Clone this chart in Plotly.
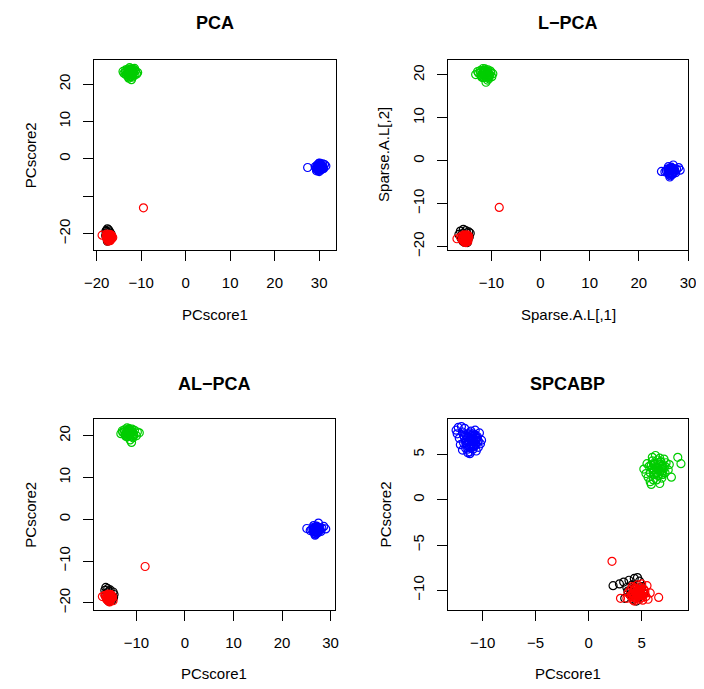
import plotly.graph_objects as go

W, H = 704, 689

# ---------------- data ----------------
# Panel 1: PCA
pca_black_x = [-17.6,-17.9,-17.3,-17.7,-17.0,-17.5,-18.0,-17.2,-16.8,-17.4,-17.8,-17.1,-17.6,-17.3,-17.9]
pca_black_y = [-18.7,-19.2,-19.0,-19.8,-20.3,-20.9,-20.5,-21.4,-20.0,-21.8,-21.1,-19.5,-22.0,-20.6,-19.4]
pca_red_x = [-17.3,-17.6,-16.9,-17.8,-17.1,-16.6,-17.4,-17.9,-16.8,-17.2,-17.5,-16.4,-17.0,-17.7,-18.8,-17.3,-16.7,-17.5,-17.0,-17.8,
             -17.3,-17.0,-17.6,-17.2,-16.9,-17.5,-17.1,-17.4,-16.6,-17.8,-17.3,-16.8,-9.5]
pca_red_y = [-20.8,-20.4,-21.2,-21.0,-20.2,-20.7,-21.6,-20.6,-21.5,-20.9,-22.0,-21.0,-21.9,-21.4,-20.4,-20.3,-20.5,-21.2,-21.7,-20.1,
             -21.0,-20.6,-21.3,-21.4,-20.9,-20.8,-21.8,-20.5,-21.3,-20.7,-21.7,-20.3,-13.1]
pca_green_x = [-12.5,-13.2,-11.8,-12.9,-12.1,-13.6,-11.3,-12.6,-13.9,-11.0,-12.3,-13.0,-11.6,-12.8,-14.1,-10.8,-12.2,-13.4,-11.9,-12.7,-12.0,-13.1,-11.5,-12.4,-12.9,
               -12.5,-12.0,-13.0,-12.3,-12.8,-11.7,-13.3,-12.6,-12.1,-13.5,-11.4,-12.9,-12.2,-12.4,-11.9]
pca_green_y = [23.0,23.6,22.8,22.3,24.1,23.2,23.5,24.4,22.9,22.7,22.0,24.0,23.9,21.6,23.4,23.1,21.2,22.5,22.3,23.3,23.7,22.9,24.2,22.6,21.9,
               23.2,22.6,23.1,23.8,22.7,23.3,22.5,22.1,23.4,23.8,22.5,23.5,22.9,24.0,21.9]
pca_blue_x = [29.8,30.4,29.3,30.9,29.9,30.2,29.5,31.2,31.5,30.6,29.1,30.0,29.7,30.8,27.4,29.6,30.3,30.1,29.4,31.0,
              30.0,30.5,29.6,30.2,29.9,30.7,29.4,30.3,29.8,30.9,30.1,29.5,30.6,29.9,30.4]
pca_blue_y = [-2.0,-1.6,-2.5,-2.2,-1.2,-3.0,-1.7,-1.5,-1.9,-2.8,-2.1,-3.4,-2.3,-1.3,-2.3,-2.9,-2.4,-1.1,-3.2,-2.6,
              -2.2,-2.4,-2.0,-1.8,-2.7,-2.0,-2.8,-2.9,-1.5,-2.5,-2.4,-2.2,-1.9,-3.1,-1.4]

# Panel 2: L-PCA
lpca_black_x = [-15.7,-16.3,-15.2,-14.6,-14.3,-15.9,-16.6,-15.0,-14.8,-15.5,-16.1,-14.5,-15.3,-15.8,-14.9]
lpca_black_y = [-16.0,-16.4,-16.3,-16.6,-16.9,-17.0,-17.2,-16.8,-18.6,-19.0,-18.2,-17.8,-17.5,-18.8,-19.1]
lpca_red_x = [-15.0,-15.4,-14.7,-15.7,-14.9,-15.2,-16.0,-14.6,-15.5,-15.1,-14.8,-15.9,-15.3,-17.0,-15.6,-14.9,-15.2,-16.3,-15.4,-14.7,
              -15.2,-14.9,-15.6,-15.0,-15.4,-14.7,-15.8,-15.1,-15.3,-14.8,-15.5,-15.0,-8.4]
lpca_red_y = [-17.8,-17.4,-18.1,-18.0,-17.3,-18.7,-17.6,-17.7,-19.0,-18.4,-18.9,-18.5,-17.9,-18.2,-17.3,-18.3,-19.1,-17.8,-18.6,-17.5,
              -18.0,-17.6,-18.3,-18.6,-17.7,-18.1,-18.0,-18.9,-17.5,-18.5,-18.7,-18.2,-10.9]
lpca_green_x = [-11.0,-11.6,-10.4,-12.1,-10.2,-11.3,-12.6,-9.9,-11.8,-10.7,-13.2,-9.7,-11.1,-12.3,-10.5,-10.9,-11.5,-12.8,-10.1,-11.7,-10.8,-12.0,-11.2,-10.6,-11.4,
                -11.0,-11.4,-10.6,-11.8,-10.9,-11.2,-10.4,-12.2,-11.5,-10.8,-11.1,-12.0,-10.6,-11.7,-11.3]
lpca_green_y = [20.2,20.7,19.8,20.0,20.9,21.4,20.4,19.6,19.4,21.2,20.1,20.3,18.3,21.0,19.1,20.6,19.9,20.8,20.5,21.5,18.8,19.5,20.2,19.7,21.1,
                20.3,20.0,20.5,20.3,19.6,21.0,20.1,20.6,19.4,20.8,19.9,19.8,19.4,21.0,20.6]
lpca_blue_x = [26.5,26.9,26.1,27.3,26.0,26.7,25.6,27.7,28.4,24.6,26.3,27.0,26.8,25.9,27.5,26.4,26.6,28.1,25.3,26.2,
               26.5,26.9,26.1,26.7,26.3,27.1,25.9,26.6,27.3,26.0,26.8,26.4,27.0,26.2,26.6]
lpca_blue_y = [-2.3,-1.8,-2.7,-2.1,-1.4,-3.2,-2.4,-2.0,-2.2,-2.5,-3.8,-1.0,-2.9,-1.9,-2.8,-3.5,-1.5,-1.6,-2.6,-3.0,
               -2.4,-2.2,-2.0,-2.9,-1.8,-2.6,-2.4,-1.6,-2.5,-2.9,-3.2,-2.8,-1.9,-3.3,-2.0]

# Panel 3: AL-PCA
alpca_black_x = [-16.3,-15.9,-16.5,-15.4,-14.8,-14.6,-15.6,-16.1,-15.0,-15.7,-14.9,-16.4,-15.2,-15.8,-14.7]
alpca_black_y = [-16.3,-16.6,-17.0,-16.9,-17.4,-18.0,-17.2,-17.6,-19.3,-19.6,-18.6,-18.2,-19.0,-18.9,-18.7]
alpca_red_x = [-15.5,-15.9,-15.1,-16.2,-15.3,-15.7,-16.4,-14.9,-15.6,-15.2,-14.8,-16.1,-15.4,-17.0,-15.8,-15.0,-15.5,-16.5,-15.9,-15.3,
               -15.6,-15.3,-16.0,-15.4,-15.8,-15.1,-16.2,-15.5,-15.7,-15.2,-15.9,-15.4,-8.2]
alpca_red_y = [-18.5,-18.1,-18.9,-18.7,-18.0,-19.3,-18.3,-18.4,-19.7,-19.1,-19.5,-19.2,-18.6,-18.5,-17.9,-18.8,-19.8,-18.2,-19.4,-18.0,
               -18.7,-18.3,-19.0,-19.3,-18.4,-18.8,-18.7,-19.6,-18.2,-19.2,-19.4,-18.9,-11.3]
alpca_green_x = [-11.2,-11.8,-10.6,-12.3,-10.4,-11.5,-12.8,-10.0,-12.0,-10.9,-13.2,-9.4,-11.0,-12.5,-10.7,-11.1,-11.7,-12.9,-9.8,-11.9,-11.3,-12.2,-11.4,-10.5,-11.6,
                 -11.2,-11.6,-10.8,-12.0,-11.1,-11.4,-10.6,-12.4,-11.7,-11.0,-11.3,-12.2,-10.8,-11.9,-11.5]
alpca_green_y = [20.6,21.1,20.2,20.4,21.3,21.7,20.8,20.0,19.8,21.6,20.5,20.7,18.4,21.4,19.5,21.0,20.3,21.2,20.9,21.9,19.0,19.9,20.6,20.1,21.5,
                 20.7,20.4,20.9,20.7,20.0,21.4,20.5,21.0,19.8,21.2,20.3,20.2,19.8,21.4,21.0]
alpca_blue_x = [27.0,27.4,26.6,27.8,26.5,27.2,26.1,28.2,29.0,25.1,26.8,27.5,27.3,26.4,28.0,26.9,27.1,28.6,25.8,26.7,
                27.0,27.4,26.6,27.2,26.8,27.6,26.4,27.1,27.8,26.5,27.3,26.9,27.5,26.7,27.1]
alpca_blue_y = [-2.4,-1.9,-2.8,-2.2,-1.5,-3.3,-2.5,-2.1,-2.3,-2.2,-3.8,-0.9,-3.0,-2.0,-2.9,-3.6,-1.6,-1.7,-2.7,-3.1,
                -2.5,-2.3,-2.1,-3.0,-1.9,-2.7,-2.5,-1.7,-2.6,-3.0,-3.3,-2.9,-2.0,-3.4,-2.1]

# Panel 4: SPCABP
spcabp_black_x = [2.3,2.9,3.3,3.8,4.3,4.6,4.1,3.6,4.8,5.0,4.4,3.9,4.7,4.2,3.4,4.5,4.0,5.2,3.7,4.3]
spcabp_black_y = [-9.5,-9.3,-9.1,-8.9,-8.7,-8.6,-9.4,-9.7,-9.0,-9.6,-10.2,-10.5,-10.8,-11.0,-10.9,-11.2,-10.0,-10.4,-10.1,-9.8]
spcabp_red_x = [4.7,4.4,5.0,4.2,4.9,4.5,5.3,3.9,4.1,4.8,5.5,5.8,3.0,3.6,6.6,5.1,4.6,4.3,5.2,4.0,3.7,5.6,4.8,4.5,5.0,4.2,4.6,5.4,
                4.6,4.9,4.3,5.1,4.5,4.8,4.1,5.3,4.4,4.7,5.0,4.2,4.9,4.6,5.2,4.0,4.4,4.8,4.3,5.1,2.2]
spcabp_red_y = [-10.2,-9.9,-10.5,-10.4,-9.7,-10.8,-10.1,-10.0,-9.6,-11.0,-9.5,-10.3,-10.9,-10.9,-10.8,-11.1,-9.4,-11.2,-10.0,-10.6,-10.3,-11.0,-10.4,-10.1,-9.3,-11.1,-10.6,-10.7,
                -10.3,-10.0,-10.1,-10.2,-10.5,-10.6,-10.4,-10.4,-9.8,-9.9,-10.8,-10.8,-10.3,-10.7,-9.9,-10.7,-10.9,-10.1,-9.7,-10.6,-6.8]
spcabp_green_x = [6.5,6.2,6.8,6.0,7.0,6.4,6.7,5.8,7.3,5.5,5.2,5.6,6.1,6.9,7.5,8.4,8.7,7.8,5.9,6.7,6.3,7.1,5.7,6.6,7.2,6.0,6.4,6.9,5.4,7.6,6.2,6.8,5.8,7.0,6.5,
                  6.5,6.1,6.9,6.3,6.7,5.9,7.1,6.4,6.8,6.0,6.6,7.0,6.2,6.5,6.9,6.3,6.7,6.1,6.6,7.2]
spcabp_green_y = [3.5,3.9,3.2,4.3,3.8,2.9,4.6,3.0,4.1,4.0,3.4,2.5,2.2,2.4,3.3,4.7,4.0,2.5,1.7,1.8,4.9,4.5,3.7,2.7,3.0,4.7,2.2,3.5,2.9,3.9,3.3,4.2,2.0,2.8,4.4,
                  3.6,3.3,3.7,4.0,3.1,3.8,3.5,3.0,4.2,3.5,4.1,3.2,2.8,2.7,2.8,3.6,3.9,4.0,3.3,3.7]
spcabp_blue_x = [-11.0,-11.3,-10.7,-11.6,-10.5,-11.9,-10.9,-11.2,-12.3,-12.5,-12.0,-11.7,-10.3,-10.1,-10.4,-11.5,-10.8,-11.1,-12.2,-11.4,-10.6,-11.8,-10.9,-11.3,-10.2,-12.4,-11.6,-10.7,-11.0,-12.1,-10.5,-11.4,-11.9,-10.8,-11.2,
                 -11.0,-11.3,-10.7,-11.6,-10.5,-11.1,-10.8,-11.4,-11.7,-10.6,-11.2,-10.9,-11.5,-10.4,-11.8,-11.0,-10.7,-11.3,-11.6,-10.9,-11.2,-10.6,-11.4,-10.8,-11.1]
spcabp_blue_y = [6.5,6.9,6.2,7.2,6.8,7.5,5.6,5.3,8.0,7.7,8.1,7.9,7.4,6.6,5.8,6.0,7.1,7.6,6.8,5.2,5.4,6.3,6.0,6.6,6.2,7.3,5.7,7.7,7.0,6.1,6.4,7.3,5.5,5.9,5.1,
                 6.8,6.4,6.6,6.6,7.0,7.1,6.0,7.0,6.9,6.1,5.9,7.3,6.2,6.5,7.1,6.2,7.2,5.8,6.3,6.7,7.4,6.9,5.6,6.4,6.1]

panel_titles = ["PCA", "L\u2212PCA", "AL\u2212PCA", "SPCABP"]
x_labels = ["PCscore1", "Sparse.A.L[,1]", "PCscore1", "PCscore1"]
y_labels = ["PCscore2", "Sparse.A.L[,2]", "PCscore2", "PCscore2"]

x_ticks = [[-20, -10, 0, 10, 20, 30], [-10, 0, 10, 20, 30], [-10, 0, 10, 20, 30], [-10, -5, 0, 5]]
x_ticktext = [["\u221220", "\u221210", "0", "10", "20", "30"], ["\u221210", "0", "10", "20", "30"],
              ["\u221210", "0", "10", "20", "30"], ["\u221210", "\u22125", "0", "5"]]
y_ticks = [[-20, -10, 0, 10, 20], [-20, -10, 0, 10, 20], [-20, -10, 0, 10, 20], [-10, -5, 0, 5]]
y_ticktext = [["\u221220", "", "0", "10", "20"], ["\u221220", "\u221210", "0", "10", "20"],
              ["\u221220", "\u221210", "0", "10", "20"], ["\u221210", "\u22125", "0", "5"]]

x_ranges = [[-20.66, 33.72], [-18.92, 30.1], [-18.77, 30.94], [-13.31, 9.32]]
y_ranges = [[-24.3, 26.54], [-20.76, 23.56], [-21.65, 24.08], [-12.16, 8.97]]

panels = [
    [(pca_black_x, pca_black_y), (pca_red_x, pca_red_y), (pca_green_x, pca_green_y), (pca_blue_x, pca_blue_y)],
    [(lpca_black_x, lpca_black_y), (lpca_red_x, lpca_red_y), (lpca_green_x, lpca_green_y), (lpca_blue_x, lpca_blue_y)],
    [(alpca_black_x, alpca_black_y), (alpca_red_x, alpca_red_y), (alpca_green_x, alpca_green_y), (alpca_blue_x, alpca_blue_y)],
    [(spcabp_black_x, spcabp_black_y), (spcabp_red_x, spcabp_red_y), (spcabp_green_x, spcabp_green_y), (spcabp_blue_x, spcabp_blue_y)],
]
colors = ["#000000", "#FF0000", "#00CD00", "#0000FF"]

# ---------------- layout (pixel boxes: left, right, top, bottom) ----------------
boxes = [(86, 334.3, 60.3, 252.3), (449, 696.3, 60.3, 252.3),
         (86, 333.7, 423, 616), (449, 695.3, 423, 616)]
title_py = [23.5, 23.5, 387.5, 387.5]
xlabel_py = [318, 318, 680.5, 680.5]
ylabel_px = [21, 384, 21, 385]

FONT = "Liberation Sans, Arial, Helvetica, sans-serif"
fig = go.Figure()
layout = dict(autosize=True, margin=dict(l=0, r=0, t=0, b=0, pad=0),
              paper_bgcolor="white", plot_bgcolor="white", showlegend=False,
              font=dict(family=FONT, color="black", size=15))
annotations = []

for i, (l, r, t, b) in enumerate(boxes):
    k = "" if i == 0 else str(i + 1)
    for (xs, ys), c in zip(panels[i], colors):
        fig.add_trace(go.Scatter(x=xs, y=ys, mode="markers", xaxis="x" + k, yaxis="y" + k,
                                 marker=dict(symbol="circle-open", size=8, color=c,
                                             line=dict(width=1.2, color=c)),
                                 hoverinfo="skip"))
    common = dict(showgrid=False, zeroline=False, showline=True, linecolor="black", linewidth=1,
                  mirror=True, ticks="outside", ticklen=10, tickwidth=1, tickcolor="black",
                  ticklabeloverflow="allow",
                  tickfont=dict(family=FONT, size=15, color="black"))
    layout["xaxis" + k] = dict(common, domain=[l / W, r / W], range=x_ranges[i], anchor="y" + k,
                               tickvals=x_ticks[i], ticktext=x_ticktext[i], ticklabelstandoff=9)
    layout["yaxis" + k] = dict(common, domain=[1 - b / H, 1 - t / H], range=y_ranges[i], anchor="x" + k,
                               tickvals=y_ticks[i], ticktext=y_ticktext[i], tickangle=-90,
                               ticklabelstandoff=7)
    cx = (l + r) / 2
    annotations.append(dict(text="<b>" + panel_titles[i] + "</b>", x=cx / W, y=1 - title_py[i] / H,
                            xref="paper", yref="paper", showarrow=False, xanchor="center",
                            yanchor="middle", font=dict(family=FONT, size=18, color="black")))
    annotations.append(dict(text=x_labels[i], x=cx / W, y=1 - xlabel_py[i] / H,
                            xref="paper", yref="paper", showarrow=False, xanchor="center",
                            yanchor="middle", font=dict(family=FONT, size=15, color="black")))
    annotations.append(dict(text=y_labels[i], x=(ylabel_px[i] - l) / (r - l), y=0.5, textangle=-90,
                            xref="x" + k + " domain", yref="y" + k + " domain", showarrow=False,
                            xanchor="center", yanchor="middle",
                            font=dict(family=FONT, size=15, color="black")))

layout["annotations"] = annotations
fig.update_layout(**layout)
# The graph div is sized to the window; a negative margin cancels the page's default body margin.
fig.write_html("out.html", config={"displayModeBar": False, "responsive": True},
               default_width="%dpx; margin:-8px" % W, default_height="%dpx" % H)
